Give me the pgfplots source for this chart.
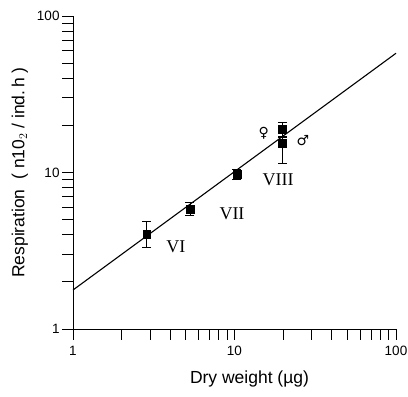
\documentclass[border=0pt]{standalone}
\usepackage{fontspec}
\setsansfont{Liberation Sans}
\newfontfamily\sym{DejaVu Sans}
\newfontfamily\numfont{Liberation Serif}
\usepackage{pgfplots}
\pgfplotsset{compat=1.18}
\begin{document}
\begin{tikzpicture}
\begin{axis}[
  scale only axis, width=323pt, height=313pt,
  xmode=log, ymode=log,
  xmin=1, xmax=100, ymin=1, ymax=100,
  axis lines=left, axis line style={-, line width=0.9pt},
  tick align=outside, tick style={black, line width=0.8pt},
  major tick length=11pt, minor tick length=11pt,
  log ticks with fixed point,
  font=\sffamily,
  ticklabel style={font=\sffamily\fontsize{13.5}{13.5}\selectfont},
  xticklabel style={yshift=-3pt},
  yticklabel style={xshift=1pt},
  /pgf/number format/assume math mode=true,
  xlabel={Dry weight (\textmu g)},
  ylabel={Respiration \ ( n10$_2$ / ind.\,h )},
  label style={font=\sffamily\fontsize{17.5}{17.5}\selectfont},
  xlabel style={xshift=15pt, yshift=-8pt},
  ylabel style={yshift=2pt},
  clip=false,
]
\addplot[black, line width=1.1pt] coordinates {(1,1.775) (100,57.8)};
\addplot[only marks, mark=square*, mark size=3.8pt, black,
  error bars/.cd, y dir=both, y explicit,
  error bar style={line width=0.8pt},
  error mark=-,
  error mark options={rotate=90, mark size=4.5pt, line width=0.8pt}]
  coordinates {
    (2.86,4.03) += (0,0.87) -= (0,0.70)
    (5.3,5.85) += (0,0.56) -= (0,0.50)
    (10.36,9.73) += (0,0.67) -= (0,0.68)
    (19.8,18.9) += (0,2.1) -= (0,2.0)
    (19.8,15.4) += (0,1.3) -= (0,3.9)
  };
\node[font=\numfont\fontsize{18}{18}\selectfont] at (axis cs:4.34,3.34) {VI};
\node[font=\numfont\fontsize{18}{18}\selectfont] at (axis cs:9.65,5.43) {VII};
\node[font=\numfont\fontsize{18}{18}\selectfont] at (axis cs:18.6,8.96) {VIII};
\node[font=\sym\fontsize{14}{14}\selectfont] at (axis cs:15.2,17.9) {♀};
\node[font=\sym\fontsize{14}{14}\selectfont] at (axis cs:26.5,16.1) {♂};
\end{axis}
\pgfresetboundingbox
\path (-73pt,-68pt) rectangle (335pt,329pt);
\end{tikzpicture}
\end{document}
